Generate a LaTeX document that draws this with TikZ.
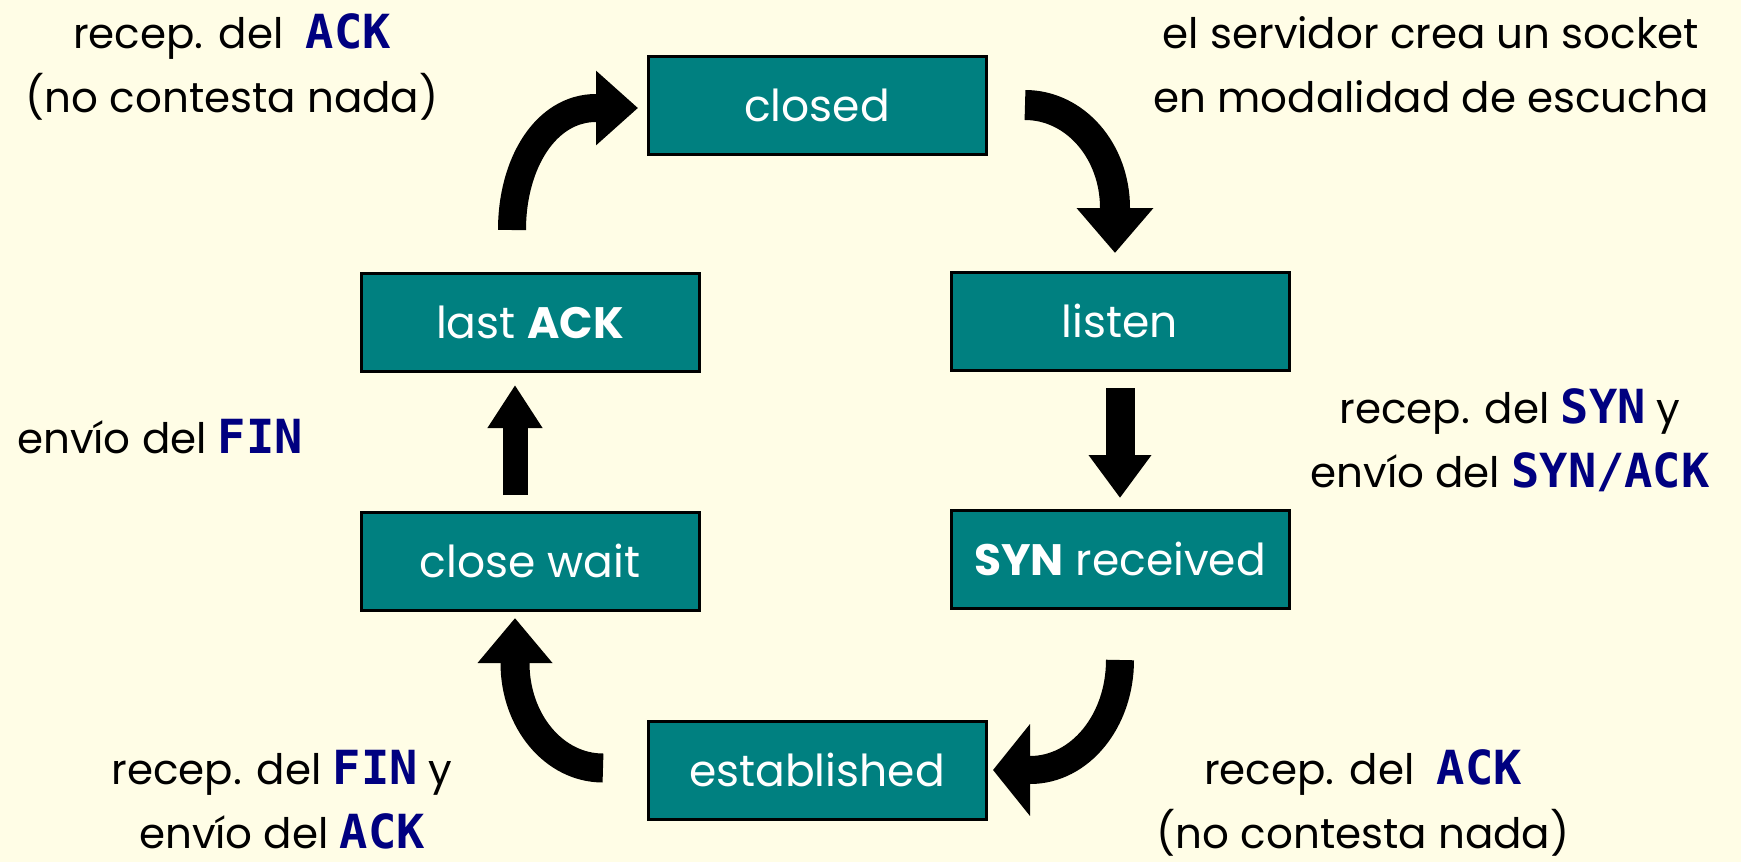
\documentclass[tikz,border=0pt]{standalone}
\usepackage{fontspec}
\setmainfont{Poppins}
\newfontfamily\monofam{DejaVu Sans Mono}
\usetikzlibrary{arrows.meta}
\definecolor{bgcol}{RGB}{255,253,230}
\definecolor{boxcol}{RGB}{0,128,128}
\definecolor{navycol}{RGB}{0,0,128}
\newcommand{\kw}[1]{{\monofam\bfseries\fontsize{47}{64}\selectfont\textcolor{navycol}{#1}}}
\begin{document}
\begin{tikzpicture}[x=1pt,y=-1pt,
  statebox/.style={draw=black, line width=3pt, fill=boxcol, text=white,
    minimum width=338pt, minimum height=98pt, inner sep=0pt,
    font=\fontsize{44}{52}\selectfont},
  lbl/.style={align=center, anchor=base, inner sep=0pt,
    font=\fontsize{42}{64}\selectfont},
  blk/.style={line width=#1, draw=black}]
\useasboundingbox[fill=bgcol] (0,0) rectangle (1741,862);

% states
\node[statebox] (closed) at (817,105) {closed};
\node[statebox] (listen) at (1120,321) {listen};
\node[statebox] (synrec) at (1120,559) {\textbf{SYN} received};
\node[statebox] (estab) at (817,770) {established};
\node[statebox] (closewait) at (530,561) {close wait};
\node[statebox] (lastack) at (530,322) {last \textbf{ACK}};

% arrow anchor coordinates
\coordinate (a1s) at (1025,105);
\coordinate (a1e) at (1115,253);
\coordinate (a2s) at (1120,388);
\coordinate (a2e) at (1120,498);
\coordinate (a3s) at (1120,660);
\coordinate (a3e) at (993,770);
\coordinate (a4s) at (603,768);
\coordinate (a4e) at (515,618);
\coordinate (a5s) at (515,495);
\coordinate (a5e) at (515,385);
\coordinate (a6s) at (512,230);
\coordinate (a6e) at (638,108);

% closed -> listen
\draw[blk=30pt, -{Triangle[width=74pt,length=45pt]}]
  (a1s) .. controls (1075,105) and (1115,151) .. (1115,208) -- (a1e);
% listen -> SYN received
\draw[blk=29pt, -{Triangle[width=60pt,length=43pt]}] (a2s) -- (a2e);
% SYN received -> established
\draw[blk=28pt, -{Triangle[width=90pt,length=37pt]}]
  (a3s) .. controls (1120,721) and (1080,770) .. (1030,770) -- (a3e);
% established -> close wait
\draw[blk=29pt, -{Triangle[width=72pt,length=45pt]}]
  (a4s) .. controls (554,768) and (515,721) .. (515,663) -- (a4e);
% close wait -> last ACK
\draw[blk=25pt, -{Triangle[width=52pt,length=43pt]}] (a5s) -- (a5e);
% last ACK -> closed
\draw[blk=28pt, -{Triangle[width=72pt,length=42pt]}]
  (a6s) .. controls (512,163) and (546,108) .. (596,108) -- (a6e);

% labels (anchor = baseline of the last line)
\node[lbl] (l1) at (232,112) {recep. del\ \ \kw{ACK}\\(no contesta nada)};
\node[lbl] (l2) at (1431,112) {el servidor crea un socket\\en modalidad de escucha};
\node[lbl] (l3) at (1510,487) {recep. del \kw{SYN} y\\env\'io del \kw{SYN/ACK}};
\node[lbl] (l4) at (160,453) {env\'io del \kw{FIN}};
\node[lbl] (l5) at (282,848) {recep. del \kw{FIN} y\\env\'io del \kw{ACK}};
\node[lbl] (l6) at (1363,848) {recep. del\ \ \kw{ACK}\\(no contesta nada)};
\end{tikzpicture}
\end{document}
